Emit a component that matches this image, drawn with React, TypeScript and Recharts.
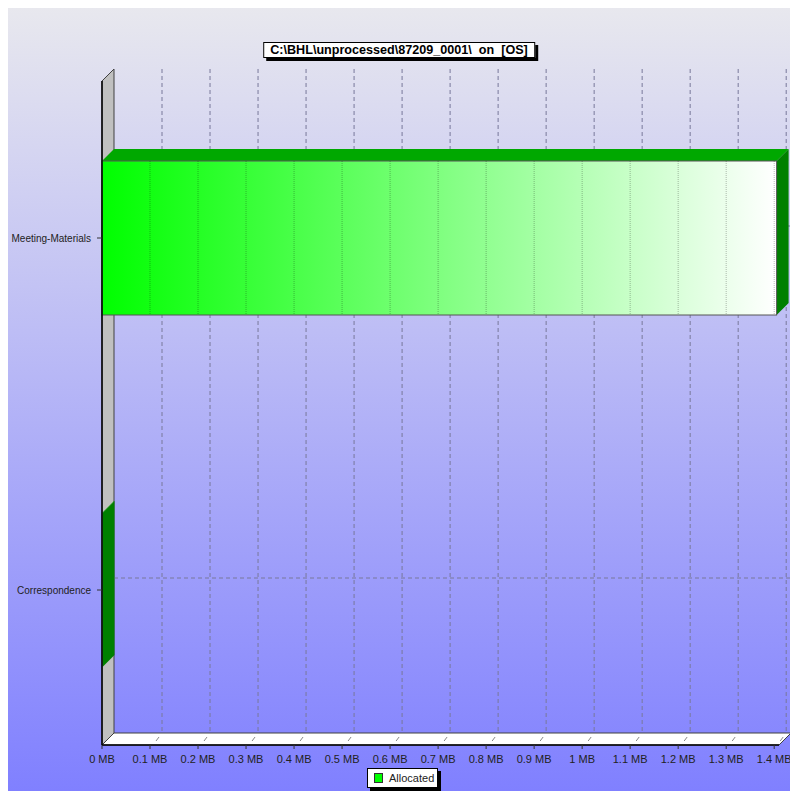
import React from 'react';
import { BarChart, Bar, XAxis, YAxis, CartesianGrid, Legend } from 'recharts';

const folders = ['Meeting-Materials', 'Correspondence'];
const allocatedMB = [1.405, 0.001];
const xTicks = [0, 0.1, 0.2, 0.3, 0.4, 0.5, 0.6, 0.7, 0.8, 0.9, 1, 1.1, 1.2, 1.3, 1.4];
const xMax = 1.41;

const data = folders.map((name, i) => ({ name, size: allocatedMB[i] }));

const W = 790;
const H = 783;
const DEPTH = 12;
const M = { top: 73, right: 19, bottom: 16, left: 0 };
const Y_AXIS_W = 94;
const X_AXIS_H = 30;
const FONT = '"Liberation Sans", Arial, sans-serif';

// plot edges (chart coords) used for the 3d walls
const PL = M.left + Y_AXIS_W;
const PR = W - M.right;
const PT = M.top;
const PB = H - M.bottom - X_AXIS_H;

// grid lines sit on the back wall, pushed in by the depth offset
const backLine = (p: any) => {
  if (p.y1 === p.y2 && (p.y1 <= PT + 1 || p.y1 >= PB - 1)) return <g key={p.key} />;
  if (p.x1 === p.x2 && p.x1 <= PL + 1) return <g key={p.key} />;
  return (
    <line
      key={p.key}
      x1={p.x1 + DEPTH}
      y1={p.y1 - DEPTH}
      x2={p.x2 + DEPTH}
      y2={p.y2 - DEPTH}
      stroke="#78789a"
      strokeDasharray="4 3"
      strokeWidth={1}
    />
  );
};

const Bar3D = (props: any) => {
  const { x, y, width, height, payload, index } = props;
  const d = DEPTH;
  const w = Math.max(width, 0);
  const ppu = payload.size > 0 ? w / payload.size : 0;
  const id = `barGrad${index}`;
  return (
    <g>
      <defs>
        <linearGradient id={id} x1="0" y1="0" x2="1" y2="0">
          <stop offset="0%" stopColor="#00ff00" />
          <stop offset="100%" stopColor="#ffffff" />
        </linearGradient>
      </defs>
      <polygon
        points={`${x},${y} ${x + d},${y - d} ${x + w + d},${y - d} ${x + w},${y}`}
        fill="#00a800"
      />
      <polygon
        points={`${x + w},${y} ${x + w + d},${y - d} ${x + w + d},${y + height - d} ${x + w},${y + height}`}
        fill="#008000"
      />
      {w > 1 && (
        <rect x={x} y={y} width={w} height={height} fill={`url(#${id})`} stroke="#555" strokeWidth={1} />
      )}
      {xTicks
        .filter((t) => t > 0 && t < payload.size)
        .map((t) => (
          <line
            key={t}
            x1={x + t * ppu}
            x2={x + t * ppu}
            y1={y}
            y2={y + height}
            stroke="#000"
            strokeOpacity={0.28}
            strokeDasharray="1 1"
          />
        ))}
    </g>
  );
};

const XTick = (props: any) => {
  const { x, y, payload } = props;
  const axisY = PB;
  return (
    <g>
      {payload.value > 0 && (
        <line x1={x + 6} y1={axisY - 4} x2={x + 9} y2={axisY - 8} stroke="#888" strokeWidth={1} />
      )}
      <text x={x} y={y} dy="0.71em" textAnchor="middle" fontSize={11} fill="#222" fontFamily={FONT}>
        {`${payload.value} MB`}
      </text>
    </g>
  );
};

const LegendBox = (props: any) => {
  const { payload = [] } = props;
  return (
    <div
      style={{
        display: 'inline-flex',
        alignItems: 'center',
        background: '#fff',
        border: '1px solid #000',
        boxShadow: '3px 3px 0 #000',
        padding: '1px 3px 1px 6px',
        height: 16,
        fontFamily: FONT,
        fontSize: 11,
        color: '#222',
      }}
    >
      {payload.map((e: any) => (
        <span key={e.value} style={{ display: 'inline-flex', alignItems: 'center' }}>
          <span
            style={{
              display: 'inline-block',
              width: 7,
              height: 8,
              background: e.color,
              border: '1px solid #333',
              marginRight: 6,
            }}
          />
          {e.value}
        </span>
      ))}
    </div>
  );
};

export default function App() {
  return (
    <div
      style={{
        position: 'relative',
        width: W,
        height: H,
        background: 'linear-gradient(to bottom, #e8e8ee 0%, #8080ff 100%)',
      }}
    >
      <svg width={W} height={H} style={{ position: 'absolute', left: 0, top: 0 }}>
        <polygon
          points={`${PL},${PT} ${PL + DEPTH},${PT - DEPTH} ${PL + DEPTH},${PB - DEPTH} ${PL},${PB}`}
          fill="#c0c0c0"
          stroke="#404040"
          strokeWidth={1}
        />
        <polygon
          points={`${PL},${PB} ${PR},${PB} ${PR + DEPTH},${PB - DEPTH} ${PL + DEPTH},${PB - DEPTH}`}
          fill="#ffffff"
          stroke="#404040"
          strokeWidth={1}
        />
      </svg>
      <div
        style={{
          position: 'absolute',
          top: 34,
          left: 391,
          transform: 'translateX(-50%)',
          background: '#fff',
          border: '1px solid #000',
          boxShadow: '3px 3px 0 #000',
          padding: '0 6px',
          height: 14,
          lineHeight: '14px',
          fontFamily: FONT,
          fontWeight: 'bold',
          fontSize: 12.6,
          whiteSpace: 'pre',
          color: '#000',
          zIndex: 2,
        }}
      >
        {'C:\\BHL\\unprocessed\\87209_0001\\  on  [OS]'}
      </div>
      <BarChart
        width={W}
        height={H}
        data={data}
        layout="vertical"
        margin={M}
        style={{ position: 'absolute', left: 0, top: 0 }}
      >
        <CartesianGrid vertical={backLine} horizontal={backLine} />
        <XAxis
          type="number"
          domain={[0, xMax]}
          ticks={xTicks}
          interval={0}
          height={X_AXIS_H}
          tickSize={4}
          tickMargin={6}
          tick={<XTick />}
          axisLine={{ stroke: '#000', strokeWidth: 1.5 }}
          tickLine={{ stroke: '#333' }}
        />
        <YAxis
          type="category"
          dataKey="name"
          width={Y_AXIS_W}
          padding={{ top: -19, bottom: -21 }}
          tickSize={5}
          tickMargin={6}
          tick={{ fontSize: 10, fill: '#222', fontFamily: FONT }}
          axisLine={{ stroke: '#000', strokeWidth: 1.5 }}
          tickLine={{ stroke: '#333' }}
        />
        <Legend
          layout="horizontal"
          verticalAlign="middle"
          align="center"
          wrapperStyle={{ top: 760, left: 359, width: 'auto' }}
          content={<LegendBox />}
        />
        <Bar dataKey="size" name="Allocated" fill="#00ff00" barSize={154} shape={Bar3D} isAnimationActive={false} />
      </BarChart>
    </div>
  );
}
